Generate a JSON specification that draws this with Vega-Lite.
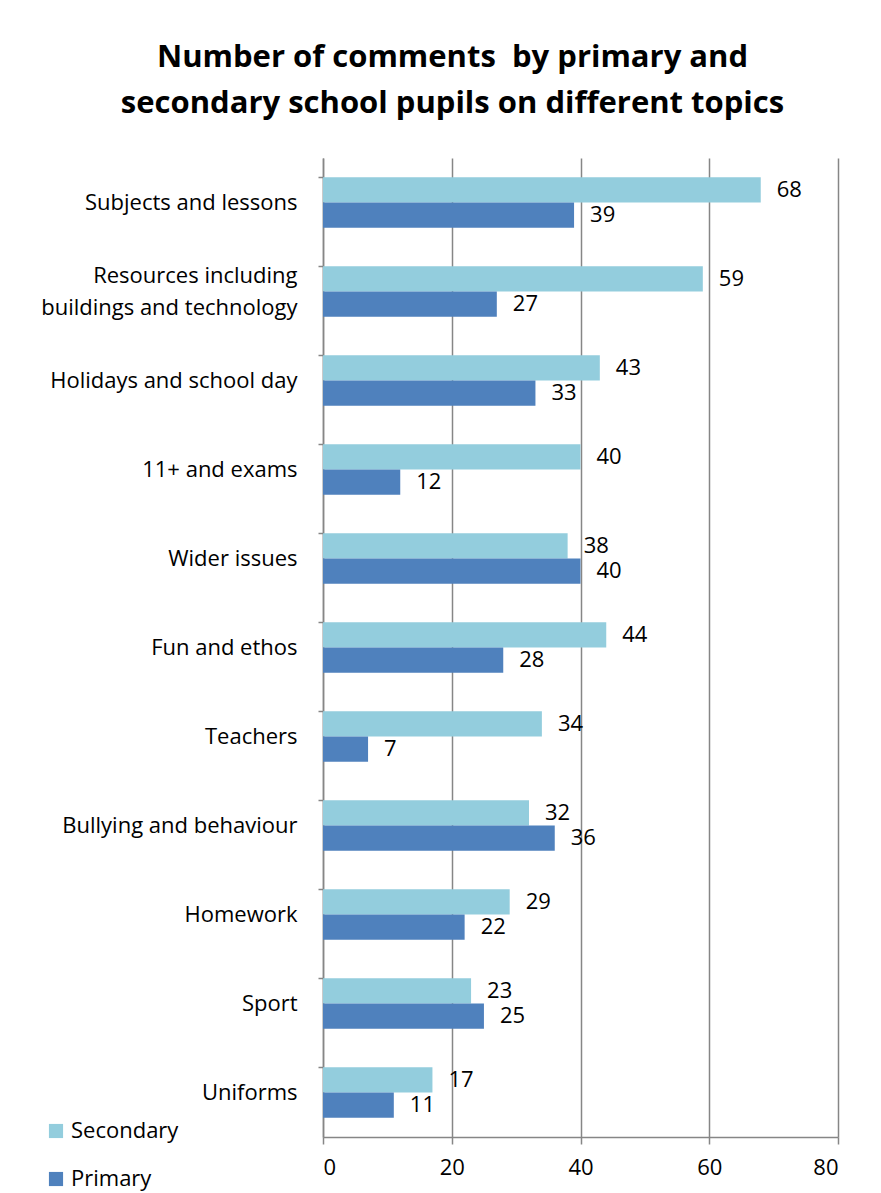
{
  "$schema": "https://vega.github.io/schema/vega-lite/v6.json",
  "width": 515,
  "height": 979,
  "autosize": {"type": "none"},
  "padding": {"left": 323, "top": 158, "right": 43, "bottom": 56},
  "background": "white",
  "title": {
    "text": ["Number of comments \u00a0by primary and", "secondary school pupils on different topics"],
    "font": "Open Sans",
    "fontSize": 31,
    "fontWeight": "bold",
    "color": "#000000",
    "lineHeight": 46,
    "anchor": "middle",
    "frame": "group",
    "dx": -128,
    "offset": 38
  },
  "data": {
    "values": [
      {"topic": "Subjects and lessons", "series": "Secondary", "value": 68},
      {"topic": "Subjects and lessons", "series": "Primary", "value": 39},
      {"topic": "Resources including buildings and technology", "series": "Secondary", "value": 59},
      {"topic": "Resources including buildings and technology", "series": "Primary", "value": 27},
      {"topic": "Holidays and school day", "series": "Secondary", "value": 43},
      {"topic": "Holidays and school day", "series": "Primary", "value": 33},
      {"topic": "11+ and exams", "series": "Secondary", "value": 40},
      {"topic": "11+ and exams", "series": "Primary", "value": 12},
      {"topic": "Wider issues", "series": "Secondary", "value": 38},
      {"topic": "Wider issues", "series": "Primary", "value": 40},
      {"topic": "Fun and ethos", "series": "Secondary", "value": 44},
      {"topic": "Fun and ethos", "series": "Primary", "value": 28},
      {"topic": "Teachers", "series": "Secondary", "value": 34},
      {"topic": "Teachers", "series": "Primary", "value": 7},
      {"topic": "Bullying and behaviour", "series": "Secondary", "value": 32},
      {"topic": "Bullying and behaviour", "series": "Primary", "value": 36},
      {"topic": "Homework", "series": "Secondary", "value": 29},
      {"topic": "Homework", "series": "Primary", "value": 22},
      {"topic": "Sport", "series": "Secondary", "value": 23},
      {"topic": "Sport", "series": "Primary", "value": 25},
      {"topic": "Uniforms", "series": "Secondary", "value": 17},
      {"topic": "Uniforms", "series": "Primary", "value": 11}
    ]
  },
  "encoding": {
    "y": {
      "field": "topic",
      "type": "nominal",
      "sort": null,
      "scale": {"paddingInner": 0.43, "paddingOuter": 0.215},
      "axis": {
        "title": null,
        "labelFont": "Open Sans",
        "labelFontSize": 22,
        "labelColor": "#000000",
        "labelLineHeight": 32,
        "labelPadding": 21,
        "labelLimit": 320,
        "labelExpr": "datum.label == 'Resources including buildings and technology' ? ['Resources including', 'buildings and technology'] : datum.label",
        "labelOffset": {"condition": {"test": "datum.value == 'Resources including buildings and technology'", "value": -16}, "value": 0},
        "domainColor": "#868686",
        "domainWidth": 1.5,
        "tickColor": "#868686",
        "tickWidth": 1.5,
        "tickSize": 5,
        "bandPosition": 0,
        "grid": false
      }
    },
    "yOffset": {"field": "series", "type": "nominal", "sort": ["Secondary", "Primary"]},
    "x": {
      "field": "value",
      "type": "quantitative",
      "scale": {"domain": [0, 80]},
      "axis": {
        "title": null,
        "values": [0, 20, 40, 60, 80],
        "labelFont": "Open Sans",
        "labelFontSize": 22,
        "labelColor": "#000000",
        "labelPadding": 13,
        "domainColor": "#868686",
        "domainWidth": 1.5,
        "tickColor": "#868686",
        "tickWidth": 1.5,
        "tickSize": 7,
        "grid": true,
        "gridColor": "#868686",
        "gridWidth": 1.5
      }
    }
  },
  "layer": [
    {
      "mark": {"type": "bar"},
      "encoding": {
        "color": {
          "field": "series",
          "type": "nominal",
          "scale": {"domain": ["Secondary", "Primary"], "range": ["#93CDDD", "#4F81BD"]},
          "legend": {
            "title": null,
            "orient": "none",
            "legendX": -278,
            "legendY": 962,
            "symbolType": "square",
            "symbolSize": 200,
            "symbolStrokeWidth": 0,
            "labelFont": "Open Sans",
            "labelFontSize": 22,
            "labelColor": "#000000",
            "labelOffset": 4,
            "rowPadding": 26
          }
        }
      }
    },
    {
      "mark": {"type": "text", "align": "left", "baseline": "middle", "dx": 16, "font": "Open Sans", "fontSize": 22, "color": "#000000"},
      "encoding": {"text": {"field": "value", "type": "quantitative"}}
    }
  ],
  "config": {"view": {"stroke": null}}
}
